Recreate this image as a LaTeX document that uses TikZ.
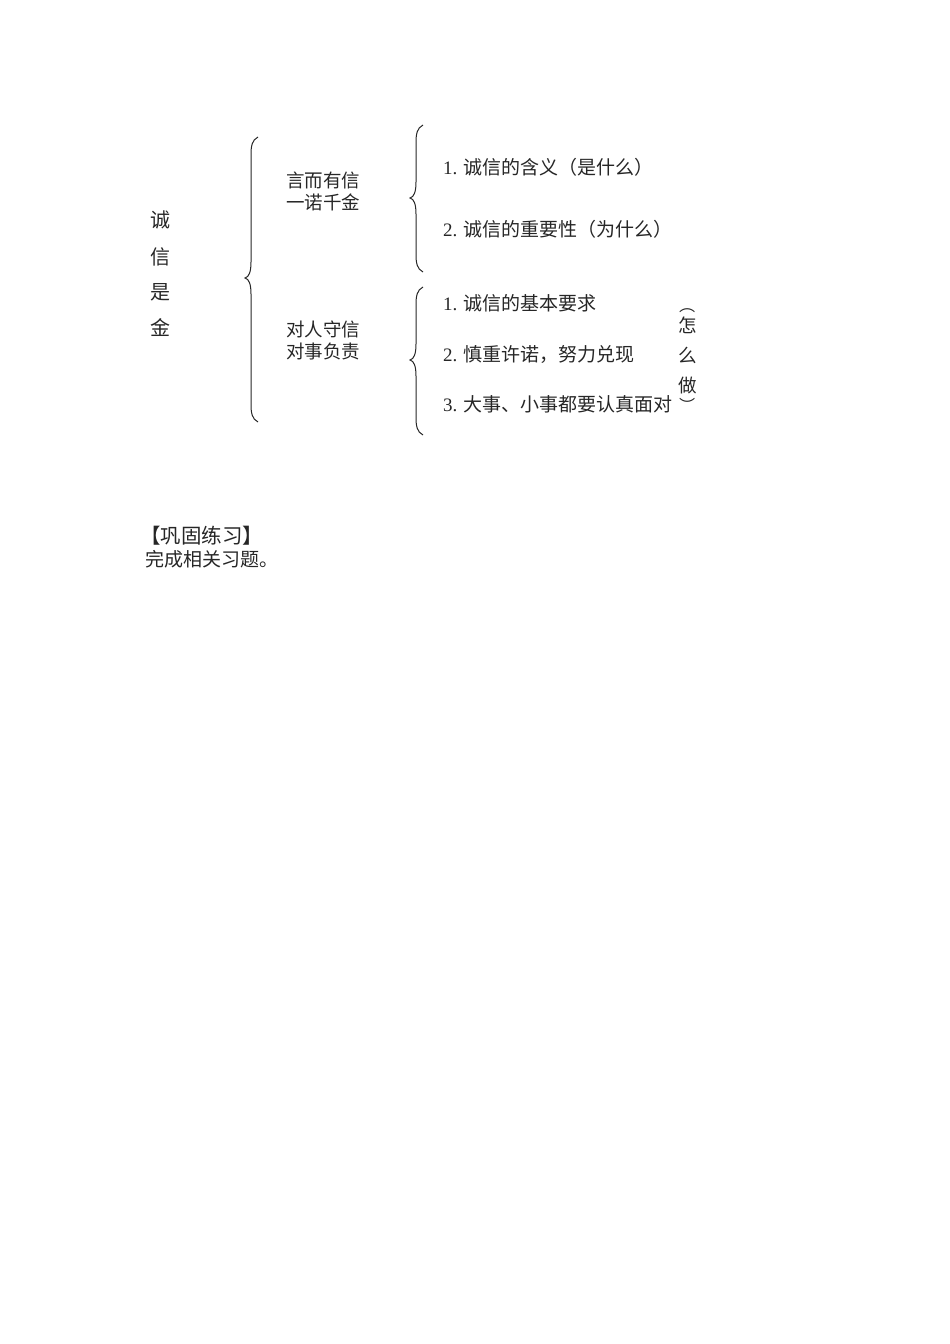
\documentclass[tikz,border=0pt]{standalone}
\usepackage{fontspec}
\setmainfont{Liberation Serif}
\newfontfamily\cjk{Noto Sans CJK SC}
\newcommand\drawbrace[4]{% x of line, y top, y tip, y bottom
  \draw[bracestyle] ({#1+7},{-#2}) .. controls ({#1+1},{-#2-3}) and (#1,{-#2-9}) .. (#1,{-#2-18})
    -- (#1,{-#3+16}) .. controls (#1,{-#3+6}) and ({#1-2},{-#3+1}) .. ({#1-6},{-#3})
    .. controls ({#1-2},{-#3-1}) and (#1,{-#3-6}) .. (#1,{-#3-16})
    -- (#1,{-#4+18}) .. controls (#1,{-#4+9}) and ({#1+1},{-#4+3}) .. ({#1+7},{-#4});}
\begin{document}
\begin{tikzpicture}[x=1pt,y=1pt,
  bracestyle/.style={line width=1pt,black!85},
  txt/.style={inner sep=0pt,font=\fontsize{18.5}{22}\selectfont\cjk,text=black!85},
  item/.style={txt,anchor=west,font=\fontsize{19}{22}\selectfont},
  big/.style={inner sep=0pt,font=\fontsize{20}{24}\selectfont\cjk,text=black!85}]
\useasboundingbox (0,0) rectangle (950,-1344);
% title vertical
\node[big] (t1) at (160,-220) {诚};
\node[big] (t2) at (160,-257) {信};
\node[big] (t3) at (160,-292) {是};
\node[big] (t4) at (160,-328) {金};
% main brace
\drawbrace{251}{137}{278}{422}
% second level
\node[txt,align=center] (a) at (323,-191) {言而有信\\一诺千金};
\node[txt,align=center] (b) at (323,-340) {对人守信\\对事负责};
\drawbrace{416}{125}{198}{272}
\drawbrace{416}{287}{360}{435}
% items
\node[item] (a1) at (443,-167) {1. {\cjk 诚信的含义（是什么）}};
\node[item] (a2) at (443,-229) {2. {\cjk 诚信的重要性（为什么）}};
\node[item] (b1) at (443,-303) {1. {\cjk 诚信的基本要求}};
\node[item] (b2) at (443,-354) {2. {\cjk 慎重许诺，努力兑现}};
\node[item] (b3) at (443,-404) {3. {\cjk 大事、小事都要认真面对}};
% how
\node[txt,rotate=-90,font=\fontsize{16}{20}\selectfont\cjk] (h0) at (688,-305) {（};
\node[txt] (h1) at (688,-325) {怎};
\node[txt] (h2) at (688,-355) {么};
\node[txt] (h3) at (688,-385) {做};
\node[txt,rotate=-90,font=\fontsize{16}{20}\selectfont\cjk] (h4) at (688,-405) {）};
% exercise
\node[item,font=\fontsize{20.5}{24}\selectfont\cjk] (e1) at (140,-536) {【巩固练习】};
\node[item,font=\fontsize{19}{22}\selectfont\cjk] (e2) at (145,-559) {完成相关习题。};
\end{tikzpicture}
\end{document}
